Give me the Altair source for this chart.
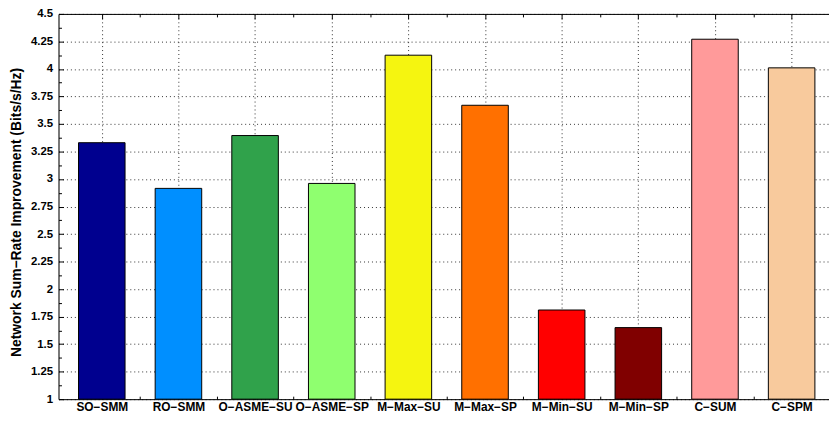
import json
import altair as alt
import pandas as pd

categories = ["SO−SMM", "RO−SMM", "O−ASME−SU", "O−ASME−SP", "M−Max−SU",
              "M−Max−SP", "M−Min−SU", "M−Min−SP", "C−SUM", "C−SPM"]
positions = [1, 2, 3, 4, 5, 6, 7, 8, 9, 10]
values = [3.33, 2.915, 3.395, 2.96, 4.125, 3.67, 1.81, 1.65, 4.27, 4.01]
colors = ["#00008F", "#008FFF", "#30A24B", "#8FFF6F", "#F5F510",
          "#FF7000", "#FF0000", "#800000", "#FF9A9A", "#F8CA9D"]

y_major = [1, 1.25, 1.5, 1.75, 2, 2.25, 2.5, 2.75, 3, 3.25, 3.5, 3.75, 4, 4.25, 4.5]
y_minor = [1.125, 1.375, 1.625, 1.875, 2.125, 2.375, 2.625, 2.875, 3.125,
           3.375, 3.625, 3.875, 4.125, 4.375]
x_major = positions
x_minor = [1.5, 2.5, 3.5, 4.5, 5.5, 6.5, 7.5, 8.5, 9.5]

W, H = 778, 389
FONT = "Liberation Sans"

df = pd.DataFrame({"pos": positions, "category": categories,
                   "value": values, "base": [1] * len(values)})

# the reference is cropped on the right, just before the end of the last band
xscale = alt.Scale(domain=[0.5, 10.423], nice=False, zero=False)
yscale = alt.Scale(domain=[1, 4.5], nice=False, zero=False)
cscale = alt.Scale(domain=categories, range=colors)

label_expr = json.dumps(categories) + "[datum.value - 1]"


def tick_axis(orient, offset, vals, size, domain=False):
    return alt.Axis(orient=orient, offset=offset, values=vals, labels=False,
                    ticks=True, tickSize=size, tickColor="black", tickWidth=1,
                    domain=domain, domainColor="black", domainWidth=1,
                    grid=False, title=None)


bars = alt.Chart(df).mark_bar(width=47, stroke="black", strokeWidth=1).encode(
    x=alt.X("pos:Q", scale=xscale, axis=alt.Axis(
        orient="bottom", values=x_major, labelExpr=label_expr, ticks=False,
        domain=True, domainColor="black", domainWidth=1,
        grid=True, gridDash=[1, 3], gridColor="#333333", gridWidth=1,
        labelFont=FONT, labelFontWeight="bold", labelFontSize=12,
        labelColor="black", labelPadding=2, title=None)),
    y=alt.Y("value:Q", scale=yscale, axis=alt.Axis(
        orient="left", values=y_major, format=".3~g", ticks=False,
        domain=True, domainColor="black", domainWidth=1,
        grid=True, gridDash=[1, 3], gridColor="#333333", gridWidth=1,
        labelFont=FONT, labelFontWeight="bold", labelFontSize=11.5,
        labelColor="black", labelPadding=6,
        title="Network Sum−Rate Improvement (Bits/s/Hz)",
        titleFont=FONT, titleFontWeight="bold", titleFontSize=14,
        titleColor="black", titleAngle=-90, titleX=-42, titleY=200,
        titleAlign="center", titleBaseline="middle")),
    y2="base:Q",
    color=alt.Color("category:N", scale=cscale, legend=None),
)

ghost = alt.Chart(df).mark_bar(width=47, opacity=0)

layer_b = ghost.encode(
    x=alt.X("pos:Q", scale=xscale, axis=tick_axis("top", -H, x_major, 5)),
    y=alt.Y("value:Q", scale=yscale, axis=tick_axis("right", -W, y_major, 5)),
    y2="base:Q",
)
layer_c = ghost.encode(
    x=alt.X("pos:Q", scale=xscale, axis=tick_axis("bottom", -H, x_major, 5, domain=True)),
    y=alt.Y("value:Q", scale=yscale, axis=tick_axis("right", -W, y_minor, 3)),
    y2="base:Q",
)
layer_d = ghost.encode(
    x=alt.X("pos:Q", scale=xscale, axis=tick_axis("top", -H, x_minor, 3)),
    y=alt.Y("value:Q", scale=yscale, axis=None),
    y2="base:Q",
)
layer_e = ghost.encode(
    x=alt.X("pos:Q", scale=xscale, axis=tick_axis("bottom", -H, x_minor, 3)),
    y=alt.Y("value:Q", scale=yscale, axis=None),
    y2="base:Q",
)

chart = alt.layer(bars, layer_b, layer_c, layer_d, layer_e).resolve_axis(
    x="independent", y="independent"
).properties(
    width=W, height=H,
    autosize=alt.AutoSizeParams(type="none"),
    padding={"left": 51, "top": 4, "right": 0, "bottom": 12},
).configure_view(stroke=None).configure(background="white")

chart.save("out.html", embed_options={"renderer": "svg", "actions": False})
